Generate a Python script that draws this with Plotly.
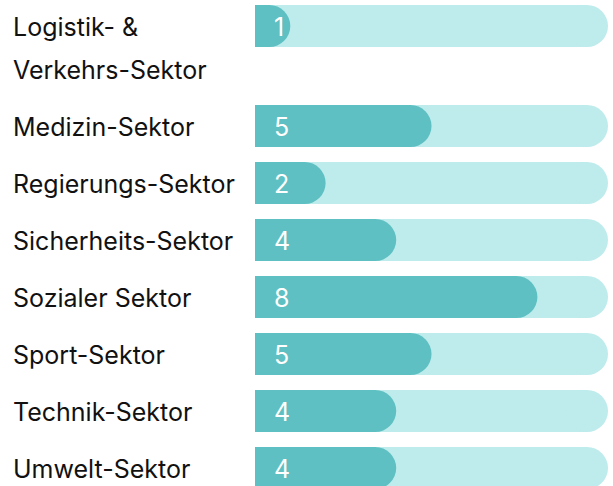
import plotly.graph_objects as go

categories = ["Logistik- &<br>Verkehrs-Sektor", "Medizin-Sektor", "Regierungs-Sektor",
              "Sicherheits-Sektor", "Sozialer Sektor", "Sport-Sektor",
              "Technik-Sektor", "Umwelt-Sektor"]
values = [1, 5, 2, 4, 8, 5, 4, 4]
max_value = 10

FILL = "#5EC0C2"
TRACK = "#BEEBEC"
FONT = "Inter"

W, H = 613, 486
ML, MR = 255, 5
BAR_PX = 42
ROW_PX = 57
LINE_PX = 43
FIRST_CENTER = 26

px_per_unit = (W - ML - MR) / max_value
r_units = (BAR_PX / 2) / px_per_unit

centers = []
y = FIRST_CENTER
for i, c in enumerate(categories):
    centers.append(y)
    nlines = len(c.split("<br>"))
    y += ROW_PX + LINE_PX * (nlines - 1)

fig = go.Figure()
fig.add_trace(go.Bar(x=[max_value - r_units] * len(values), y=centers, orientation="h",
                     width=BAR_PX, marker=dict(color=TRACK, line=dict(width=0)),
                     hoverinfo="skip"))
fig.add_trace(go.Scatter(x=[max_value - r_units] * len(values), y=centers, mode="markers",
                         marker=dict(size=BAR_PX, color=TRACK, line=dict(width=0)),
                         hoverinfo="skip", cliponaxis=True))
fig.add_trace(go.Bar(x=[v - r_units for v in values], y=centers, orientation="h",
                     width=BAR_PX, marker=dict(color=FILL, line=dict(width=0)),
                     hoverinfo="skip"))
fig.add_trace(go.Scatter(x=[v - r_units for v in values], y=centers, mode="markers",
                         marker=dict(size=BAR_PX, color=FILL, line=dict(width=0)),
                         hoverinfo="skip", cliponaxis=True))

annotations = []
for c, v, yc in zip(categories, values, centers):
    for j, line in enumerate(c.split("<br>")):
        annotations.append(dict(text=line, xref="paper", x=-(ML - 11) / (W - ML - MR),
                                xanchor="left", yref="y", y=yc + 1 + j * LINE_PX,
                                yanchor="middle", showarrow=False,
                                font=dict(family=FONT, size=25, color="#111111")))
    annotations.append(dict(text=str(v), xref="x", x=0, xshift=17, xanchor="left",
                            yref="y", y=yc + 1, yanchor="middle", showarrow=False,
                            font=dict(family=FONT, size=25, color="white")))

fig.update_layout(
    width=W, height=H, margin=dict(l=ML, r=MR, t=0, b=0),
    paper_bgcolor="white", plot_bgcolor="white",
    barmode="overlay", showlegend=False,
    xaxis=dict(range=[0, max_value], visible=False, fixedrange=True),
    yaxis=dict(range=[H, 0], visible=False, fixedrange=True),
    annotations=annotations,
)

fig.write_html("out.html", config={"displayModeBar": False},
               post_script="document.body.style.margin='0';document.body.style.overflow='hidden';")
